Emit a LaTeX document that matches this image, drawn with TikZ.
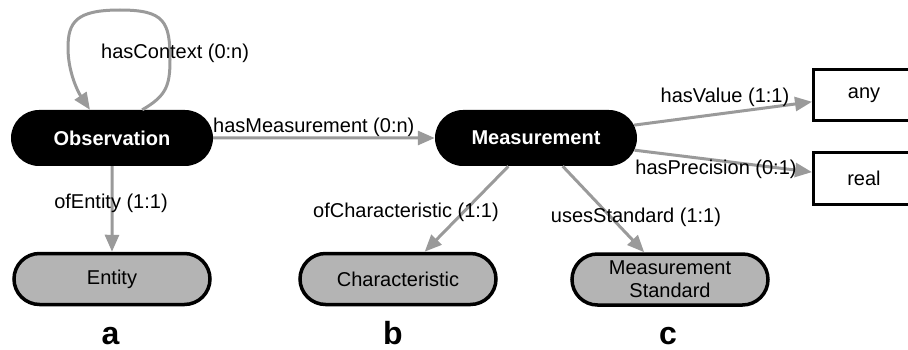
\documentclass[tikz,border=0pt]{standalone}
\usepackage{fontspec}
\setmainfont{Liberation Sans}
\usetikzlibrary{arrows.meta,shapes.misc}

\definecolor{edgegray}{HTML}{9A9A9A}
\definecolor{nodegray}{HTML}{B4B4B4}

\begin{document}
\begin{tikzpicture}[x=1pt,y=-1pt,
  txt/.style={font=\fontsize{20}{23}\selectfont},
  mainconcept/.style={rounded rectangle, fill=black, text=white,
    font=\bfseries\fontsize{20}{23}\selectfont,
    minimum width=202pt, minimum height=56pt, inner sep=0pt},
  subconcept/.style={rounded rectangle, fill=nodegray, draw=black, line width=3.5pt,
    font=\fontsize{20}{23}\selectfont, align=center,
    minimum width=196pt, minimum height=51pt, inner sep=0pt},
  valuebox/.style={rectangle, draw=black, line width=3pt, fill=white,
    font=\fontsize{20}{23}\selectfont,
    minimum width=101pt, minimum height=51pt, inner sep=0pt},
  rel/.style={draw=edgegray, line width=3pt,
    -{Triangle[length=17pt,width=14pt,fill=edgegray]}},
  rellabel/.style={txt, inner sep=0pt},
  panel/.style={font=\bfseries\fontsize{32}{36}\selectfont, anchor=base, inner sep=0pt}]

\useasboundingbox (0,0) rectangle (908,350);
\clip (0,0) rectangle (908,350);

% concepts
\node[mainconcept] (obs)  at (112,138) {Observation};
\node[mainconcept] (meas) at (536,138) {Measurement};
\node[subconcept]  (ent)  at (112,279) {Entity};
\node[subconcept]  (char) at (398,279) {Characteristic};
\node[subconcept]  (std)  at (670,279.5) {Measurement\\Standard};
\node[valuebox]    (any)  at (864,95)  {any};
\node[valuebox]    (real) at (864,178.5) {real};

% relations
\draw[rel] (obs.43) .. controls (166,96) and (170,86) .. (170,60)
  .. controls (170,22) and (165,10) .. (120,10)
  .. controls (76,10) and (68,22) .. (68,48)
  .. controls (68,72) and (78,92) .. (obs.128);
\draw[rel] (obs)  -- (meas);
\draw[rel] (obs)  -- (ent);
\draw[rel] (meas) -- (char);
\draw[rel] (meas) -- (std);
\draw[rel] (meas) -- (any);
\draw[rel] (meas) -- (real);

% relation labels
\node[rellabel, anchor=west] (lctx)  at (101,53)  {hasContext (0:n)};
\node[rellabel, anchor=west] (lmeas) at (213,127) {hasMeasurement (0:n)};
\node[rellabel] (lent)  at (111,203) {ofEntity (1:1)};
\node[rellabel] (lchar) at (406,212) {ofCharacteristic (1:1)};
\node[rellabel] (lstd)  at (636,217) {usesStandard (1:1)};
\node[rellabel] (lval)  at (725,97)  {hasValue (1:1)};
\node[rellabel] (lprec) at (716,169) {hasPrecision (0:1)};

% panel letters
\node[panel] (pa) at (110.5,344.5) {a};
\node[panel] (pb) at (393,344.5) {b};
\node[panel] (pc) at (668,344.5) {c};
\end{tikzpicture}
\end{document}
